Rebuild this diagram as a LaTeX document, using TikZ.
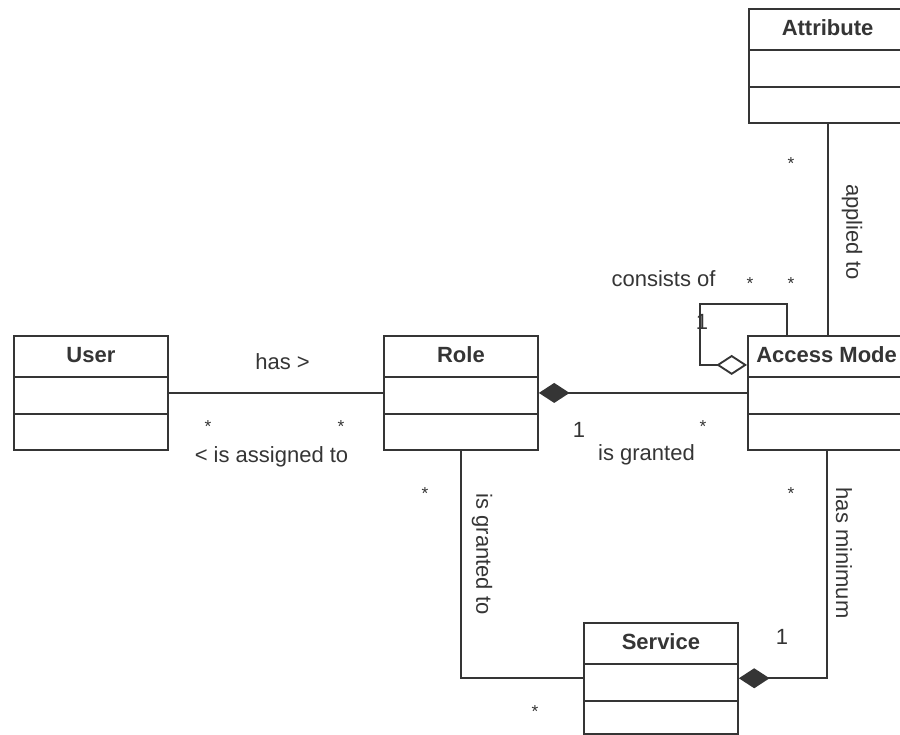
\documentclass[tikz,border=0pt]{standalone}
\usepackage{fontspec}
\setmainfont{Liberation Sans}
\usetikzlibrary{arrows.meta,calc}
\definecolor{ink}{HTML}{353535}

% one UML class: box with a name compartment and two empty compartments
\newcommand{\umlclass}[5][]{%
  \node[classbox,#1] (#2) at (#3,#4) {};
  \draw[assoc] ($(#2.north west)+(0,42)$) -- ($(#2.north east)+(0,42)$);
  \draw[assoc] ($(#2.north west)+(0,79)$) -- ($(#2.north east)+(0,79)$);
  \node[classtitle] (#2-name) at ($(#2.north)+(0,20)$) {#5};
}

\begin{document}
\begin{tikzpicture}[x=0.75pt,y=-0.75pt,
  classbox/.style={draw=ink, line width=1.4pt, fill=white, rectangle,
    minimum width=115.5pt, minimum height=85.5pt, inner sep=0pt, anchor=north west},
  classtitle/.style={font=\fontsize{16.5}{18}\selectfont\bfseries, text=ink, inner sep=0pt},
  assoc/.style={draw=ink, line width=1.4pt},
  lbl/.style={font=\fontsize{16.5}{18}\selectfont, text=ink, inner sep=0pt},
  mult/.style={font=\fontsize{13}{13}\selectfont, text=ink, inner sep=0pt, anchor=north},
  composite/.style={{Diamond[length=23pt,width=15pt,fill=ink]}-},
  aggregate/.style={{Diamond[open,length=23pt,width=15pt,fill=white]}-}]

\useasboundingbox (0,0) rectangle (900,735);
\clip (0,0) rectangle (900,735);

% classes
\umlclass{user}{13}{335}{User}
\umlclass{role}{383}{335}{Role}
\umlclass[minimum width=118pt]{access}{747}{335}{Access Mode}
\umlclass[minimum width=118pt]{attribute}{748}{8}{Attribute}
\umlclass[minimum height=83pt]{service}{583}{622}{Service}

% associations
\draw[assoc] (user.east) -- (user.east -| role.west);
\draw[assoc,composite] (role.east) -- (role.east -| access.west);
\draw[assoc] (attribute.south) -- (attribute.south |- access.north);
\draw[assoc] (role.south) |- (service.west);
\draw[assoc,composite] (service.east) -| (access.south);

% self association of Access Mode
\coordinate (loopcorner) at (700,304);
\draw[assoc,aggregate] ($(access.west)+(0,-28)$) -| (loopcorner)
  -| ($(access.north west)+(40,0)$);

% association labels
\node[lbl] (l-has) at (282.5,362) {has >};
\node[lbl] (l-assigned) at (271.5,457) {< is assigned to};
\node[lbl] (l-granted) at (646.5,455) {is granted};
\node[lbl,rotate=-90] (l-grantedto) at (482,554) {is granted to};
\node[lbl] (l-consists) at (663.5,279) {consists of};
\node[lbl,rotate=-90] (l-applied) at (852,232) {applied to};
\node[lbl,rotate=-90] (l-minimum) at (844,553) {has minimum};

% multiplicities
\node[mult] (m1) at (208,420) {*};
\node[mult] (m2) at (341,420) {*};
\node[lbl]  (m3) at (579,430) {1};
\node[mult] (m4) at (703,420) {*};
\node[mult] (m5) at (425,487) {*};
\node[mult] (m6) at (750,277) {*};
\node[mult] (m7) at (791,277) {*};
\node[lbl]  (m8) at (702,322) {1};
\node[mult] (m9) at (791,157) {*};
\node[mult] (m10) at (791,487) {*};
\node[lbl]  (m11) at (782,637) {1};
\node[mult] (m12) at (535,705) {*};

\end{tikzpicture}
\end{document}
